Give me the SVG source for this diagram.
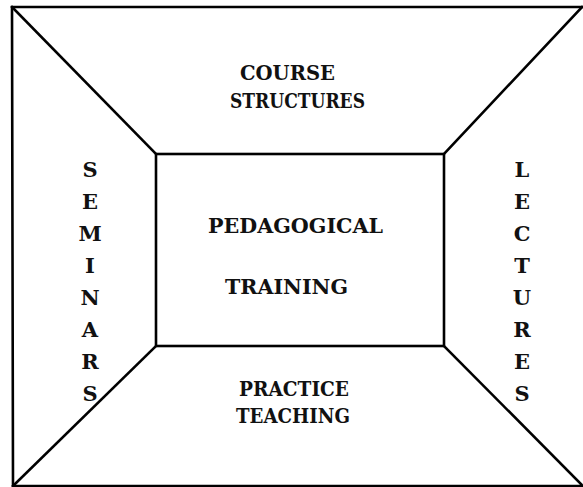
<svg xmlns="http://www.w3.org/2000/svg" width="583" height="487" viewBox="0 0 583 487">
<style>
  .ln { fill: none; stroke: #000; stroke-width: 2.6; stroke-linejoin: miter; stroke-linecap: square; }
  .t { font-family: "DejaVu Serif", "Liberation Serif", serif; font-weight: bold; font-size: 21px; fill: #111; }
  .v { text-anchor: middle; }
</style>
<rect width="583" height="487" fill="#fff"/>
<g id="connectors">
  <polyline class="ln" points="583,7 12,7 13,486 583,486"/>
  <rect class="ln" x="156" y="154" width="288" height="192"/>
  <line class="ln" x1="12" y1="7" x2="156" y2="154"/>
  <line class="ln" x1="582" y1="7" x2="444" y2="154"/>
  <line class="ln" x1="13" y1="486" x2="156" y2="346"/>
  <line class="ln" x1="583" y1="486" x2="444" y2="346"/>
</g>
<g id="course-structures">
  <text class="t" x="240" y="80" textLength="95" lengthAdjust="spacingAndGlyphs">COURSE</text>
  <text class="t" x="230" y="108" textLength="135" lengthAdjust="spacingAndGlyphs">STRUCTURES</text>
</g>
<g id="pedagogical-training">
  <text class="t" x="208" y="233" textLength="175" lengthAdjust="spacingAndGlyphs">PEDAGOGICAL</text>
  <text class="t" x="225" y="294" textLength="123" lengthAdjust="spacingAndGlyphs">TRAINING</text>
</g>
<g id="practice-teaching">
  <text class="t" x="239" y="396" textLength="110" lengthAdjust="spacingAndGlyphs">PRACTICE</text>
  <text class="t" x="236" y="423" textLength="114" lengthAdjust="spacingAndGlyphs">TEACHING</text>
</g>
<g id="seminars">
  <text class="t v" x="90" y="177">S</text>
  <text class="t v" x="90" y="209">E</text>
  <text class="t v" x="90" y="241">M</text>
  <text class="t v" x="90" y="273">I</text>
  <text class="t v" x="90" y="305">N</text>
  <text class="t v" x="90" y="337">A</text>
  <text class="t v" x="90" y="369">R</text>
  <text class="t v" x="90" y="401">S</text>
</g>
<g id="lectures">
  <text class="t v" x="522" y="177">L</text>
  <text class="t v" x="522" y="209">E</text>
  <text class="t v" x="522" y="241">C</text>
  <text class="t v" x="522" y="273">T</text>
  <text class="t v" x="522" y="305">U</text>
  <text class="t v" x="522" y="337">R</text>
  <text class="t v" x="522" y="369">E</text>
  <text class="t v" x="522" y="401">S</text>
</g>
</svg>
